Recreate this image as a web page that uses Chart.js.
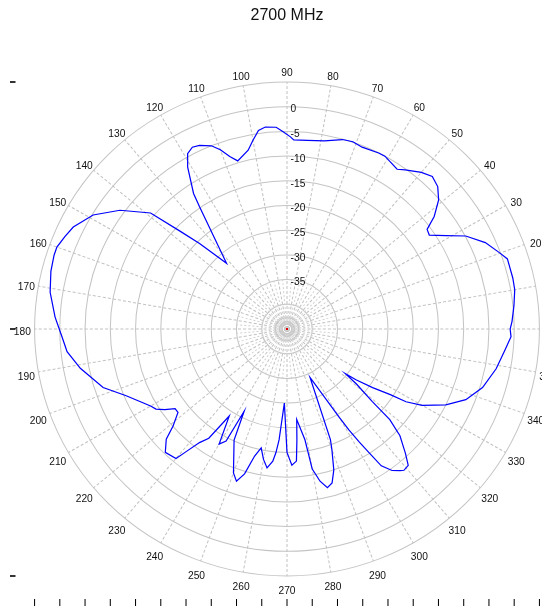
<!DOCTYPE html>
<html>
<head>
<meta charset="utf-8">
<script src="https://cdn.jsdelivr.net/npm/chart.js@4.4.1/dist/chart.umd.min.js"></script>
<style>
  html, body { margin: 0; padding: 0; background: #fff; }
  canvas { display: block; }
</style>
</head>
<body>
<canvas id="chart" width="542" height="611"></canvas>
<script>
const chartTitle = '2700 MHz';

// measured pattern: angle (deg, counter-clockwise from 3 o'clock) and gain (dB)
const angleDeg = [0, 2, 6, 10, 13, 18, 20, 24, 28, 31, 34, 36, 38, 41, 44, 47, 50, 54, 56, 61,
  63, 68, 71, 74, 79, 84, 88, 89, 91, 93, 96, 98, 100, 102, 106, 108, 110, 112, 115, 117,
  119, 121, 124, 125, 132, 135, 137, 139, 144, 149, 154, 157, 160, 162, 166, 171, 177, 182, 186, 191, 198, 203,
  210, 212, 214, 216, 218, 221, 223, 226, 230, 231, 233, 235, 237, 240, 242, 243, 245, 250, 252, 254, 256, 258,
  260, 262, 264, 265, 266, 268, 270, 272, 274, 275, 276, 279, 280, 282, 284, 286, 288, 290, 291, 295,
  300, 301, 302, 303, 304, 306, 308, 309, 311, 313, 316, 318, 319, 321, 322, 323, 325, 327, 328, 330,
  334, 338, 343, 349, 354, 358];
const gainDb = [-0.8, -0.4, 0.2, 0.8, 0.9, 0.9, -0.1, -2.0, -4.9, -8.3, -11.0, -10.7, -8.0, -5.2, -3.5, -2.8, -3.6, -5.2, -6.0, -5.0,
  -5.0, -5.3, -4.9, -5.1, -6.2, -6.6, -6.7, -6.1, -5.1, -4.1, -3.9, -4.4, -6.2, -8.0, -9.6, -8.3, -6.4, -5.0, -4.0, -3.7,
  -4.4, -6.8, -11.9, -14.8, -27.1, -20.5, -15.8, -9.2, -4.1, -0.2, 2.1, 2.8, 3.5, 3.5, 3.2, 2.5, 1.0, -0.4, -1.2, -3.3, -6.7, -10.4,
  -13.8, -14.4, -15.8, -17.6, -17.6, -15.1, -12.3, -10.3, -10.8, -12.8, -16.2, -18.0, -24.0, -18.1, -19.3, -26.3, -20.2, -14.0, -12.6, -14.5, -18.5, -20.4,
  -18.2, -16.6, -18.1, -19.9, -22.5, -30.0, -20.0, -17.4, -18.2, -22.5, -26.6, -22.3, -16.2, -13.5, -11.9, -12.6, -15.0, -19.0, -21.0, -34.2,
  -24.5, -21.2, -18.2, -15.1, -11.6, -9.6, -8.6, -8.2, -8.4, -10.6, -13.9, -17.6, -22.6, -27.3, -30.3, -27.9, -24.3, -20.6, -17.2, -14.1,
  -10.0, -6.8, -4.5, -2.8, -1.7, -0.6];

const angleTicks = [0, 10, 20, 30, 40, 50, 60, 70, 80, 90, 100, 110, 120, 130, 140, 150, 160, 170,
  180, 190, 200, 210, 220, 230, 240, 250, 260, 270, 280, 290, 300, 310, 320, 330, 340, 350];
const gainTicks = [0, -5, -10, -15, -20, -25, -30, -35];

// radar runs clockwise from the top, one slot per degree
const slotOf = a => (90 - a + 360) % 360;
const labels = [];
const values = [];
for (let i = 0; i < 360; i++) {
  labels.push(String((90 - i + 360) % 360));
  values.push(null);
}
angleDeg.forEach((a, i) => { values[slotOf(a)] = gainDb[i]; });

const FONT = 'Liberation Sans, Arial, sans-serif';
const xStretch = 1.022; // the source plot is a touch wider than tall

const polarDeco = {
  id: 'polarDeco',
  beforeDraw(chart) {
    const ctx = chart.ctx;
    const xc = chart.scales.r.xCenter;
    ctx.save();
    ctx.translate(xc, 0);
    ctx.scale(xStretch, 1);
    ctx.translate(-xc, 0);
  },
  beforeDatasetsDraw(chart) {
    const ctx = chart.ctx;
    const s = chart.scales.r;
    const xc = s.xCenter, yc = s.yCenter;
    ctx.save();
    // denser spokes near the centre
    const inner = s.getDistanceFromCenterForValue(-35);
    ctx.strokeStyle = '#d2d2d2';
    ctx.lineWidth = 1;
    ctx.setLineDash([2, 2]);
    for (let a = 5; a < 360; a += 10) {
      const p = s.getPointPosition(slotOf(a), inner);
      ctx.beginPath();
      ctx.moveTo(xc, yc);
      ctx.lineTo(p.x, p.y);
      ctx.stroke();
    }
    ctx.setLineDash([]);
    ctx.strokeStyle = '#c8c8c8';
    [-42.7, -43.5, -44.05].forEach(v => {
      ctx.beginPath();
      ctx.arc(xc, yc, s.getDistanceFromCenterForValue(v), 0, Math.PI * 2);
      ctx.stroke();
    });
    ctx.fillStyle = '#e00000';
    ctx.fillRect(xc - 1, yc - 1, 2, 2);

    // gain labels along the 90 deg spoke
    ctx.fillStyle = '#111';
    ctx.font = '10px ' + FONT;
    ctx.textAlign = 'left';
    ctx.textBaseline = 'middle';
    gainTicks.forEach(v => {
      ctx.fillText(String(v), xc + 3.5, yc - s.getDistanceFromCenterForValue(v) + 3);
    });
    ctx.restore();
  },
  afterDraw(chart) {
    const ctx = chart.ctx;
    const s = chart.scales.r;
    const xc = s.xCenter, yc = s.yCenter;
    const R = s.getDistanceFromCenterForValue(s.max);
    ctx.fillStyle = '#111';
    ctx.font = '10px ' + FONT;
    ctx.textAlign = 'center';
    ctx.textBaseline = 'middle';
    angleTicks.forEach(a => {
      const p = s.getPointPosition(slotOf(a), R + 12);
      ctx.fillText(String(a), p.x, p.y + 3.5);
    });
    // stray bottom axis ticks of the source plot
    ctx.strokeStyle = '#000';
    ctx.lineWidth = 1;
    for (let k = -10; k <= 10; k++) {
      const x = xc + k * R / 10;
      ctx.beginPath();
      ctx.moveTo(x, 599);
      ctx.lineTo(x, 606);
      ctx.stroke();
    }
    ctx.restore(); // end of horizontal stretch

    ctx.save();
    ctx.fillStyle = '#111';
    ctx.font = '16px ' + FONT;
    ctx.textAlign = 'center';
    ctx.textBaseline = 'middle';
    ctx.fillText(chartTitle, xc, 16);
    ctx.strokeStyle = '#000';
    ctx.lineWidth = 1.6;
    [yc - R, yc, yc + R].forEach(y => {
      ctx.beginPath();
      ctx.moveTo(10, y);
      ctx.lineTo(15.5, y);
      ctx.stroke();
    });
    ctx.restore();
  }
};

new Chart(document.getElementById('chart'), {
  type: 'radar',
  data: {
    labels: labels,
    datasets: [{
      data: values,
      borderColor: '#0000ff',
      borderWidth: 1.2,
      fill: false,
      tension: 0,
      pointRadius: 0,
      spanGaps: true
    }]
  },
  options: {
    responsive: false,
    devicePixelRatio: 1,
    animation: false,
    layout: { padding: { left: 40, right: 7, top: 82, bottom: 34 } },
    plugins: {
      legend: { display: false },
      tooltip: { enabled: false },
      title: { display: false }
    },
    scales: {
      r: {
        min: -45,
        max: 5,
        startAngle: 0,
        ticks: { display: false, stepSize: 5 },
        pointLabels: { display: false },
        grid: { circular: true, color: '#c4c4c4', lineWidth: 1 },
        angleLines: {
          color: '#c2c2c2',
          lineWidth: ctx => ctx.index % 10 === 0 ? 1 : 0,
          borderDash: [3, 2]
        }
      }
    }
  },
  plugins: [polarDeco]
});
</script>
</body>
</html>
